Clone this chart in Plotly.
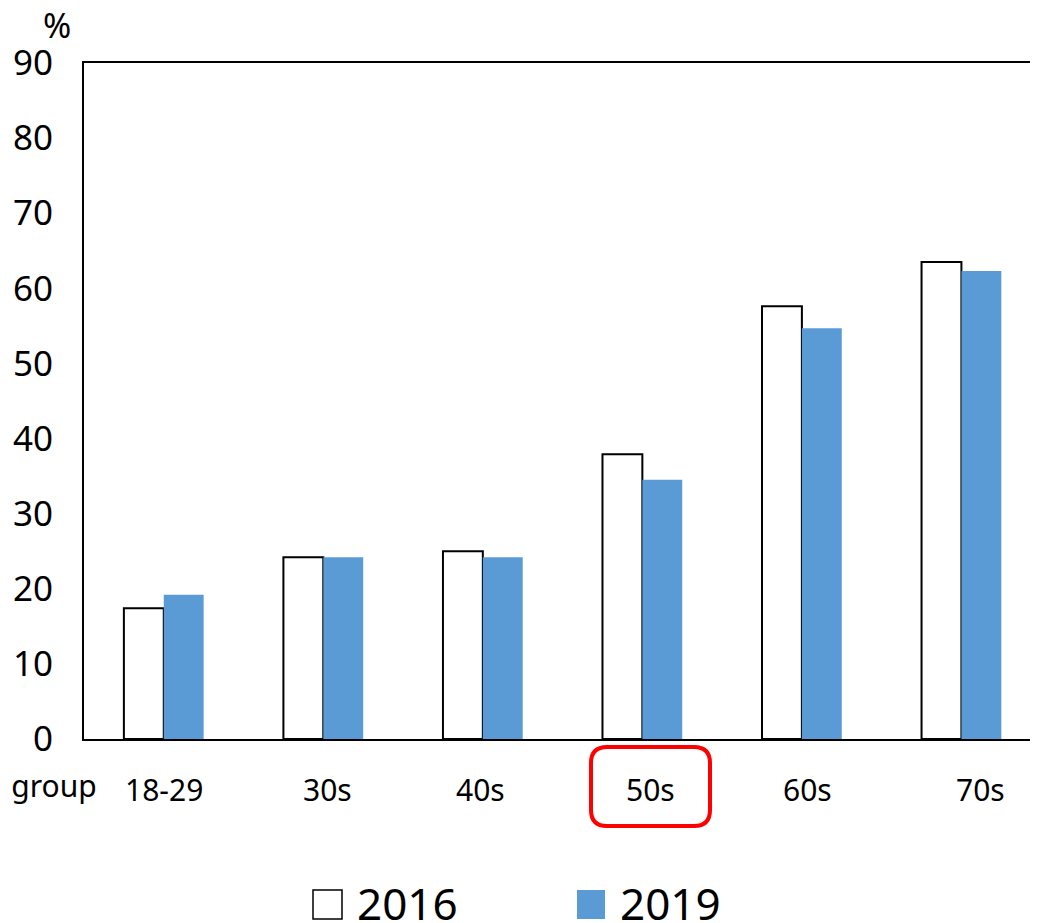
import plotly.graph_objects as go

# data
age_groups = ['18-29', '30s', '40s', '50s', '60s', '70s']
pct_2016 = [17.4, 24.2, 25.0, 37.9, 57.6, 63.5]
pct_2019 = [19.2, 24.2, 24.2, 34.5, 54.7, 62.3]
y_ticks = [0, 10, 20, 30, 40, 50, 60, 70, 80, 90]
series_names = ['2016', '2019']

OFF = 8  # page body margin of the html page
W, H = 1038 - OFF, 923 - OFF
L, T, B = 84 - OFF, 63 - OFF, 184
plot_w = W - L
plot_h = H - T - B

FONT = 'Noto Sans'
BLUE = '#5B9BD5'


def px(x):
    # screenshot pixel x -> paper x
    return (x - OFF - L) / plot_w


def py(y):
    # screenshot pixel y -> paper y
    return (H - B - (y - OFF)) / plot_h


def rounded_rect(x0, y0, x1, y1, r):
    pts = [
        f'M {px(x0 + r)},{py(y0)}',
        f'L {px(x1 - r)},{py(y0)}',
        f'Q {px(x1)},{py(y0)} {px(x1)},{py(y0 + r)}',
        f'L {px(x1)},{py(y1 - r)}',
        f'Q {px(x1)},{py(y1)} {px(x1 - r)},{py(y1)}',
        f'L {px(x0 + r)},{py(y1)}',
        f'Q {px(x0)},{py(y1)} {px(x0)},{py(y1 - r)}',
        f'L {px(x0)},{py(y0 + r)}',
        f'Q {px(x0)},{py(y0)} {px(x0 + r)},{py(y0)}',
        'Z',
    ]
    return ' '.join(pts)


fig = go.Figure()
fig.add_trace(go.Bar(x=age_groups, y=pct_2016, name=series_names[0],
                     marker=dict(color='white', line=dict(color='black', width=2))))
fig.add_trace(go.Bar(x=age_groups, y=pct_2019, name=series_names[1],
                     marker=dict(color=BLUE, line=dict(width=0))))

# category labels under the axis (slightly offset like the original)
label_shift = [0, 4, -2, 8, 6, 19]
for g, s in zip(age_groups, label_shift):
    fig.add_annotation(x=g, y=0, xref='x', yref='y', text=g, showarrow=False,
                       xshift=s, yshift=-50, yanchor='middle',
                       font=dict(family=FONT, size=30, color='black'))

fig.add_annotation(x=px(99), y=py(785), xref='paper', yref='paper', text='Age group',
                   xanchor='right', yanchor='middle', showarrow=False,
                   font=dict(family=FONT, size=30, color='black'))
fig.add_annotation(x=px(57), y=py(25), xref='paper', yref='paper', text='%',
                   xanchor='center', yanchor='middle', showarrow=False,
                   font=dict(family=FONT, size=34, color='black'))

# red highlight box around 50s
fig.add_shape(type='path', xref='paper', yref='paper',
              path=rounded_rect(591, 747, 710, 826, 16),
              line=dict(color='red', width=4), fillcolor='rgba(0,0,0,0)')

# hand-made legend (big symbols)
fig.add_shape(type='rect', xref='paper', yref='paper',
              x0=px(313), x1=px(342), y0=py(890), y1=py(919),
              line=dict(color='black', width=1.5), fillcolor='white')
fig.add_shape(type='rect', xref='paper', yref='paper',
              x0=px(577), x1=px(605), y0=py(890), y1=py(919),
              line=dict(width=0), fillcolor=BLUE)
fig.add_annotation(x=px(355), y=py(903), xref='paper', yref='paper', text=series_names[0],
                   xanchor='left', yanchor='middle', showarrow=False,
                   font=dict(family=FONT, size=44, color='black'))
fig.add_annotation(x=px(618), y=py(903), xref='paper', yref='paper', text=series_names[1],
                   xanchor='left', yanchor='middle', showarrow=False,
                   font=dict(family=FONT, size=44, color='black'))

fig.update_layout(
    width=W, height=H,
    margin=dict(l=L, r=0, t=T, b=B, pad=0),
    plot_bgcolor='white', paper_bgcolor='white',
    barmode='group', bargap=0.5, bargroupgap=0,
    showlegend=False,
    font=dict(family=FONT, color='black'),
)
fig.update_xaxes(range=[-0.5, 5.48], showticklabels=False, showline=True, mirror=True,
                 linecolor='black', linewidth=2, showgrid=False, ticks='')
fig.update_yaxes(range=[0, 90], tickvals=y_ticks, showline=True, linecolor='black',
                 linewidth=2, showgrid=False, zeroline=False, ticks='',
                 tickfont=dict(family=FONT, size=35), ticklabelstandoff=22)

fig.write_html('out.html')
